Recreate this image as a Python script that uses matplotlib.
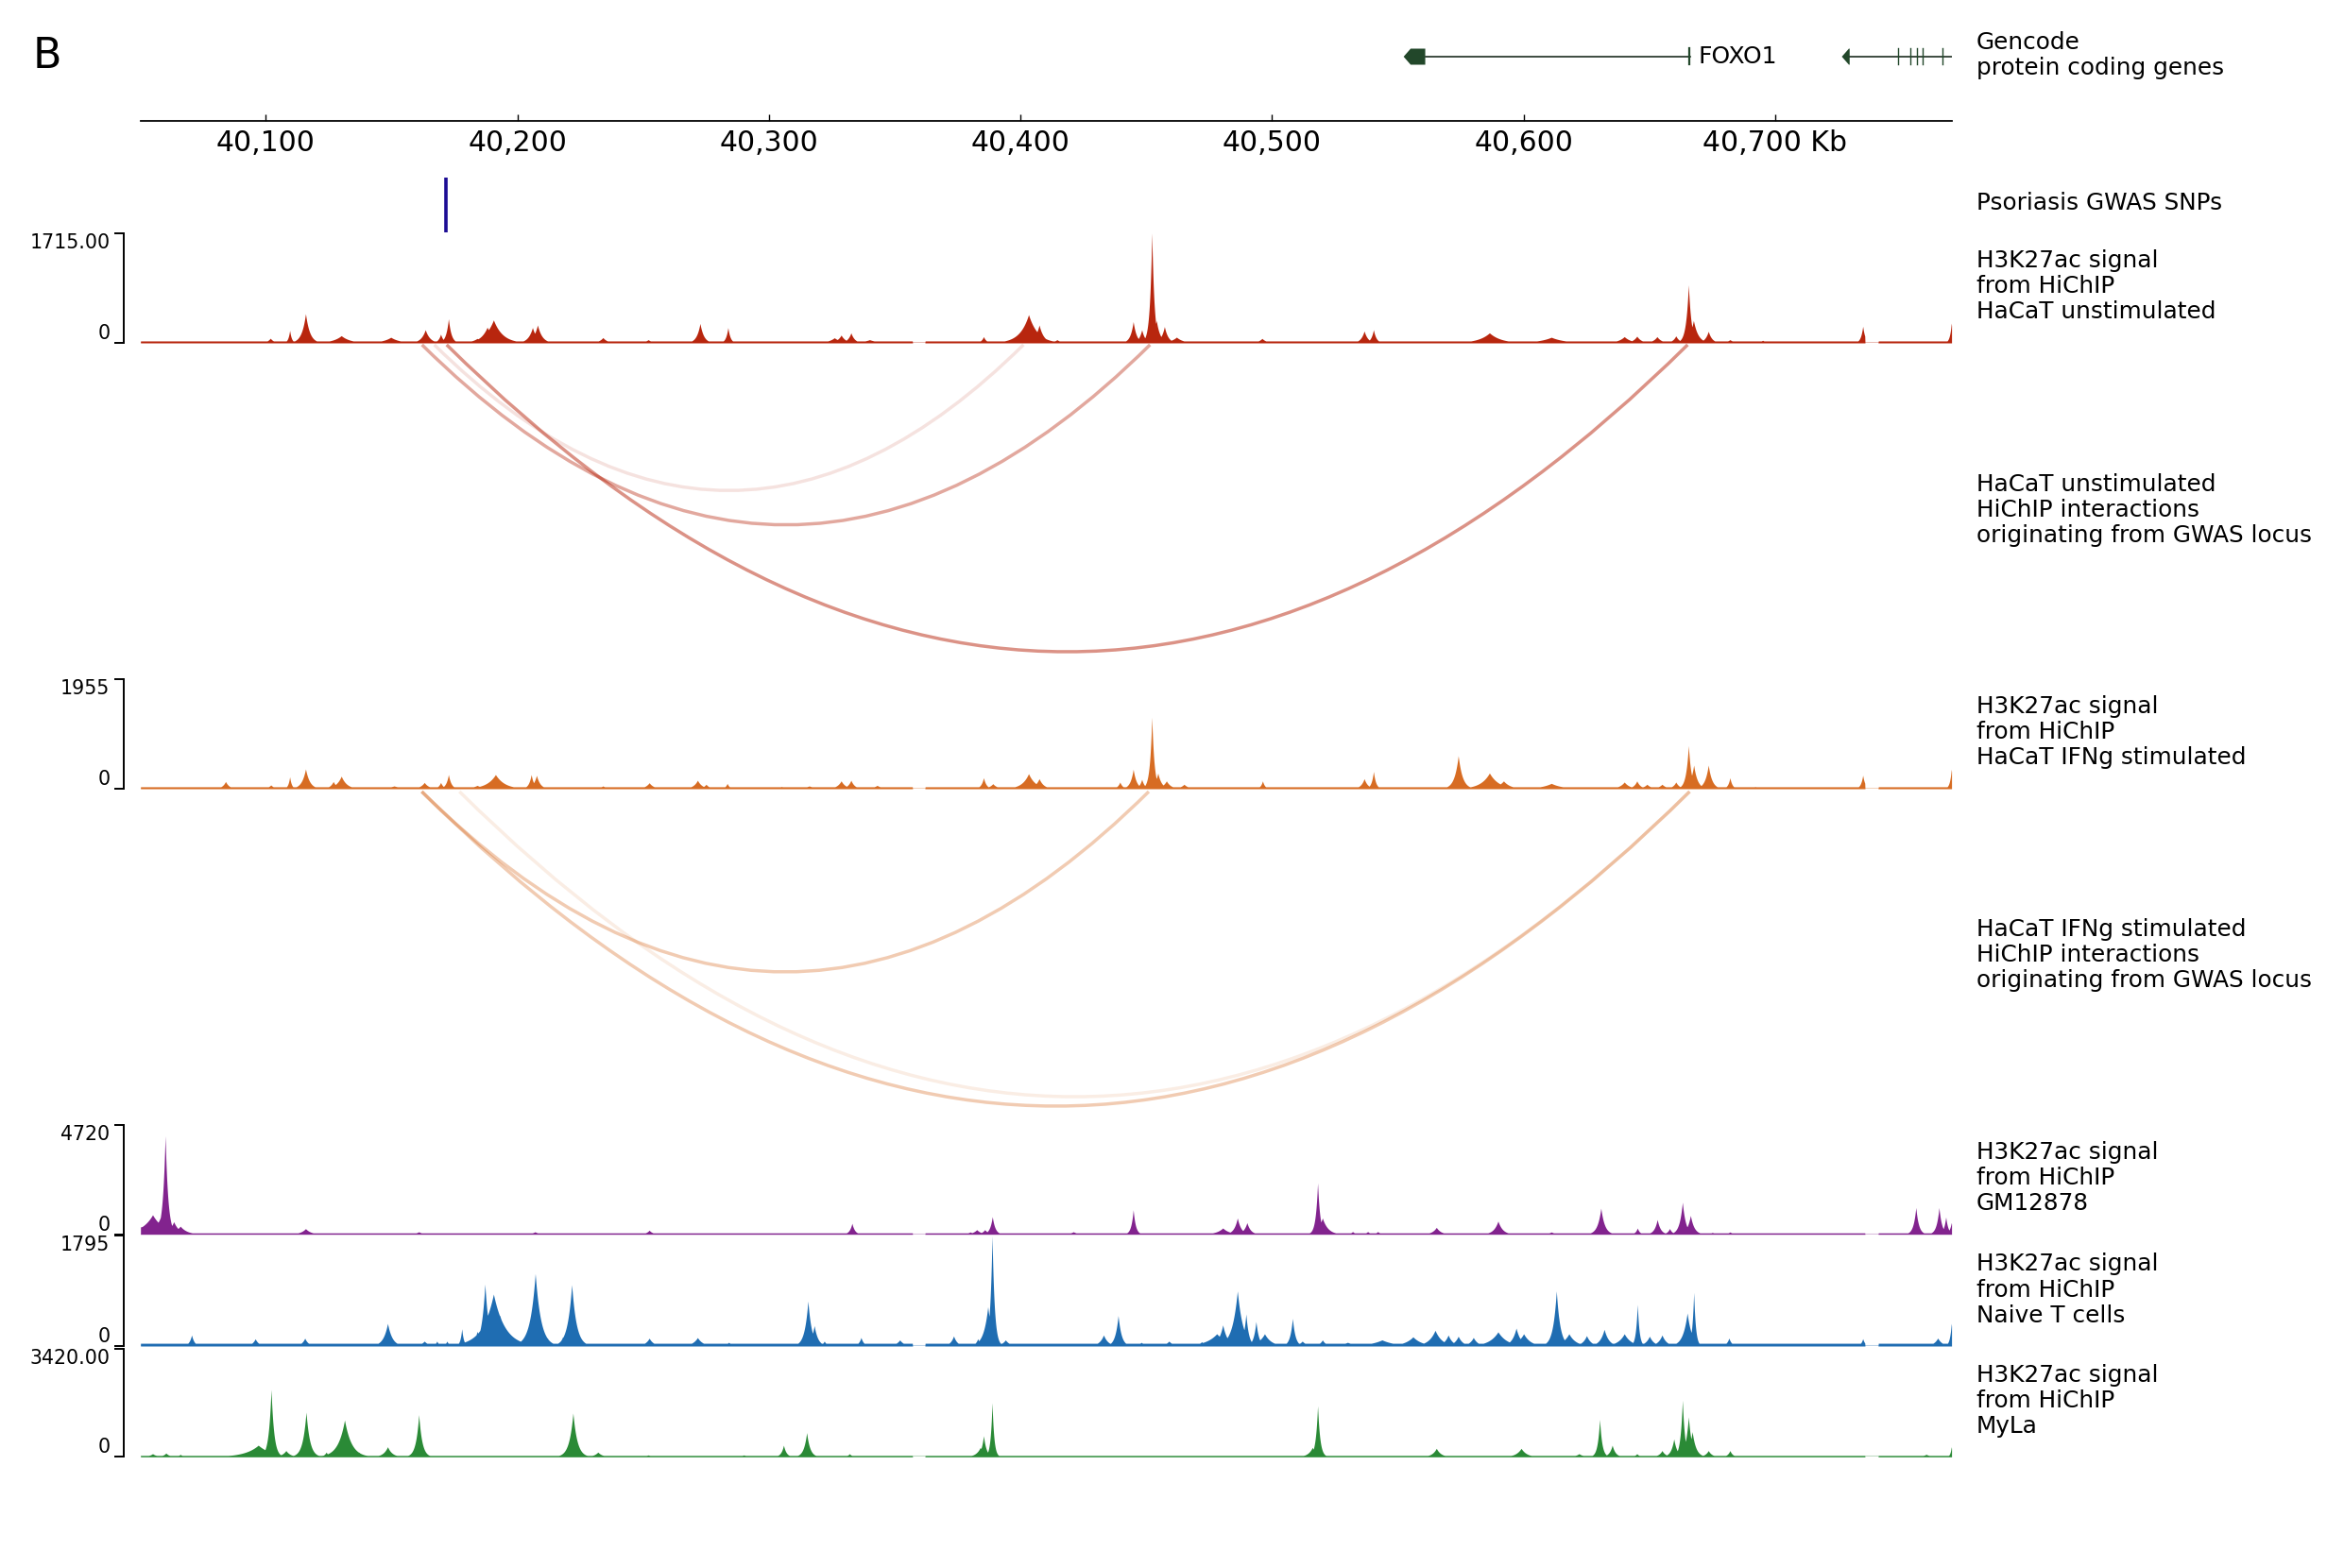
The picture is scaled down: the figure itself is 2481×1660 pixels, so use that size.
import numpy as np
import matplotlib.pyplot as plt
from matplotlib.path import Path
from matplotlib.patches import PathPatch, Polygon

# ---------------- data (positions in kb) ----------------
region = (40050.2, 40770.1)
tick_pos = [40100, 40200, 40300, 40400, 40500, 40600, 40700]
tick_labels = ['40,100', '40,200', '40,300', '40,400', '40,500', '40,600', '40,700 Kb']

# genes (minus strand, arrow at the left end)
gene_names = ['FOXO1', '']
gene_tx_start = [40552.3, 40726.5]
gene_tx_end = [40666.4, 40770.1]
gene_block_end = [40560.9, 40729.6]
gene_exon_ticks = [[40666.0], [40748.7, 40753.6, 40756.2, 40758.5, 40766.4]]

snp_pos = [40171.6]

# gaps without data
gap_start = [40357.0, 40735.6]
gap_end = [40362.0, 40740.9]

# H3K27ac HiChIP signal peaks: centre (kb), height, width (kb)
red_c = [40101.8, 40109.5, 40115.8, 40130.0, 40149.7, 40163.4, 40169.5, 40172.6, 40184.0, 40188.0,
         40190.5, 40206.0, 40208.0, 40234.0, 40252.0, 40272.6, 40283.7, 40326.0, 40328.7, 40332.6,
         40340.0, 40385.3, 40403.2, 40407.4, 40414.5, 40444.8, 40448.2, 40452.2, 40454.0, 40457.2,
         40462.0, 40496.0, 40536.6, 40540.3, 40586.4, 40611.0, 40640.0, 40645.0, 40653.0, 40660.5,
         40665.5, 40667.5, 40673.4, 40682.0, 40695.0, 40734.8, 40770.0]
red_h = [73, 196, 456, 113, 88, 206, 137, 377, 70, 245,
         358, 240, 279, 83, 50, 304, 240, 80, 122, 157,
         50, 98, 441, 279, 50, 333, 206, 1715, 350, 255,
         90, 70, 186, 206, 157, 88, 98, 105, 98, 110,
         906, 350, 181, 50, 40, 260, 309]
red_w = [0.8, 0.4, 0.9, 2.0, 2.0, 1.0, 0.6, 0.6, 1.5, 1.5,
         2.0, 1.0, 1.0, 1.0, 1.0, 0.8, 0.5, 1.5, 1.0, 0.8,
         2.0, 0.6, 2.0, 1.0, 1.0, 0.7, 0.7, 0.5, 0.8, 0.8,
         1.5, 1.0, 0.8, 0.6, 2.5, 3.0, 1.5, 1.0, 1.0, 0.8,
         0.6, 1.0, 0.8, 1.0, 1.0, 0.5, 0.4]

orange_c = [40084.0, 40102.0, 40109.5, 40115.8, 40126.8, 40130.0, 40151.0, 40163.0, 40169.5, 40172.6,
            40184.0, 40191.3, 40205.5, 40207.6, 40234.0, 40252.4, 40271.6, 40275.0, 40283.4, 40305.0,
            40316.0, 40328.7, 40332.6, 40343.0, 40385.3, 40389.0, 40403.2, 40407.4, 40439.5, 40444.8,
            40448.2, 40452.2, 40454.6, 40458.0, 40465.0, 40496.2, 40536.6, 40540.3, 40574.0, 40586.4,
            40592.0, 40611.0, 40640.0, 40645.0, 40649.0, 40655.0, 40660.5, 40665.5, 40667.6, 40673.4,
            40682.0, 40692.0, 40734.8, 40770.0]
orange_h = [130, 68, 214, 355, 130, 225, 50, 113, 113, 254,
            60, 254, 254, 240, 50, 107, 152, 80, 96, 40,
            50, 141, 152, 60, 197, 90, 270, 180, 120, 349,
            170, 1279, 280, 140, 80, 140, 180, 310, 592, 282,
            140, 96, 120, 140, 80, 80, 120, 772, 423, 423,
            197, 40, 242, 349]
orange_w = [0.8, 0.8, 0.4, 0.9, 0.8, 1.2, 2.0, 1.0, 0.6, 0.6,
            1.5, 2.0, 0.6, 0.8, 1.0, 1.0, 1.0, 0.8, 0.5, 1.5,
            1.5, 1.0, 0.8, 1.2, 0.6, 1.0, 1.5, 1.0, 0.6, 0.7,
            0.6, 0.5, 0.8, 1.0, 1.0, 0.5, 0.8, 0.5, 0.9, 2.0,
            1.5, 2.5, 1.2, 0.8, 1.0, 1.0, 0.8, 0.6, 0.8, 0.8,
            0.5, 1.0, 0.5, 0.4]

purple_c = [40050.5, 40055.0, 40058.0, 40060.0, 40063.4, 40066.0, 40101.5, 40115.8, 40160.8, 40207.0,
            40228.0, 40252.4, 40316.0, 40333.0, 40345.0, 40380.0, 40382.6, 40385.8, 40388.8, 40421.0,
            40444.8, 40480.4, 40486.2, 40490.0, 40518.1, 40520.0, 40532.0, 40538.0, 40542.0, 40565.3,
            40589.8, 40611.0, 40630.7, 40645.2, 40653.1, 40658.0, 40663.1, 40666.3, 40675.0, 40682.0,
            40695.0, 40755.9, 40765.1, 40767.8, 40770.0]
purple_h = [339, 841, 700, 4245, 542, 350, 60, 244, 108, 108,
            60, 176, 60, 475, 50, 100, 200, 200, 760, 110,
            1058, 271, 705, 502, 2211, 700, 120, 120, 120, 298,
            570, 100, 1126, 271, 637, 250, 1383, 814, 80, 100,
            60, 1153, 1153, 746, 500]
purple_w = [1.5, 2.5, 1.5, 0.6, 1.2, 1.5, 1.0, 1.2, 1.0, 1.0,
            1.0, 0.8, 1.0, 0.6, 1.0, 1.0, 1.0, 0.8, 0.6, 1.0,
            0.5, 1.5, 0.8, 0.8, 0.5, 1.2, 0.6, 0.6, 0.6, 1.0,
            1.0, 1.0, 0.8, 0.5, 0.7, 0.6, 0.7, 0.8, 1.0, 0.8,
            0.5, 0.6, 0.6, 0.5, 0.5]

blue_c = [40070.5, 40095.8, 40115.5, 40148.4, 40163.0, 40168.0, 40172.0, 40177.9, 40184.0, 40187.1,
          40190.5, 40193.0, 40207.1, 40212.0, 40218.0, 40221.6, 40252.4, 40271.6, 40284.0, 40315.5,
          40318.0, 40322.0, 40336.6, 40352.0, 40373.4, 40383.0, 40385.8, 40388.7, 40387.0, 40394.0,
          40433.0, 40438.8, 40448.0, 40459.0, 40472.0, 40478.0, 40480.4, 40486.2, 40489.6, 40493.6,
          40497.0, 40508.1, 40512.0, 40520.0, 40530.0, 40543.7, 40556.0, 40564.8, 40570.0, 40574.0,
          40580.0, 40589.8, 40597.0, 40600.0, 40613.0, 40618.0, 40625.0, 40632.0, 40640.0, 40645.2,
          40650.0, 40655.0, 40665.0, 40667.6, 40681.6, 40734.8, 40764.6, 40770.0]
blue_h = [180, 118, 128, 369, 80, 80, 80, 282, 241, 1010,
          846, 500, 1180, 130, 150, 1000, 128, 138, 60, 733,
          333, 80, 140, 100, 164, 120, 205, 1795, 640, 100,
          180, 497, 60, 80, 70, 200, 344, 897, 523, 400,
          200, 451, 80, 100, 60, 100, 150, 256, 180, 160,
          140, 231, 292, 200, 897, 200, 170, 272, 200, 677,
          160, 180, 538, 872, 130, 120, 130, 369]
blue_w = [0.6, 0.8, 0.8, 1.0, 1.0, 0.5, 0.5, 0.4, 0.8, 0.8,
          2.5, 2.0, 1.2, 0.5, 0.8, 1.0, 1.0, 1.2, 1.0, 0.8,
          0.8, 0.6, 0.6, 1.0, 0.8, 0.6, 0.6, 0.5, 1.0, 1.0,
          1.0, 0.7, 1.0, 1.0, 1.0, 2.5, 1.0, 1.2, 0.6, 0.6,
          1.5, 0.6, 1.0, 0.8, 2.0, 3.0, 2.0, 1.5, 1.0, 1.0,
          1.0, 2.0, 1.0, 1.5, 0.8, 1.5, 1.0, 1.0, 1.5, 0.4,
          1.0, 1.0, 1.0, 0.4, 0.6, 0.5, 1.0, 0.4]

green_c = [40055.0, 40060.3, 40066.0, 40097.0, 40102.1, 40108.0, 40116.0, 40124.0, 40131.3, 40137.0,
           40148.4, 40160.8, 40176.0, 40222.1, 40232.0, 40252.0, 40290.0, 40305.8, 40315.0, 40332.0,
           40384.0, 40385.3, 40388.7, 40516.0, 40518.1, 40565.3, 40599.0, 40622.0, 40630.2, 40635.2,
           40645.0, 40655.0, 40659.7, 40663.1, 40665.5, 40667.0, 40673.4, 40682.0, 40760.0, 40770.0]
green_h = [100, 120, 80, 370, 2140, 200, 1420, 150, 1170, 150,
           320, 1340, 40, 1390, 150, 60, 60, 370, 770, 100,
           300, 670, 1720, 300, 1620, 270, 270, 100, 1190, 370,
           100, 200, 570, 1800, 1270, 800, 200, 200, 80, 320]
green_w = [1.0, 0.8, 0.6, 3.0, 0.6, 1.0, 0.8, 0.6, 1.5, 1.0,
           1.0, 0.7, 1.0, 0.9, 1.0, 1.0, 1.0, 0.6, 0.7, 0.6,
           1.0, 0.6, 0.4, 1.0, 0.5, 1.0, 1.2, 1.0, 0.5, 0.7,
           0.6, 0.8, 0.7, 0.5, 0.7, 0.8, 0.8, 0.6, 1.0, 0.3]

# HiChIP interactions from the GWAS locus: start, end, strength (alpha)
red_link_start = [40167.0, 40162.1, 40171.9]
red_link_end = [40401.2, 40451.5, 40665.2]
red_link_alpha = [0.13, 0.4, 0.5]
orange_link_start = [40162.0, 40162.0, 40177.0]
orange_link_end = [40451.0, 40666.0, 40666.0]
orange_link_alpha = [0.35, 0.35, 0.12]

# ---------------- layout helpers ----------------
W, H = 2481, 1660
L, R = 148.7, 2065.6
fig = plt.figure(figsize=(W / 100, H / 100), dpi=100)
fig.patch.set_facecolor('white')


def add_ax(top, bottom):
    ax = fig.add_axes([L / W, 1 - bottom / H, (R - L) / W, (bottom - top) / H])
    ax.set_xlim(region)
    return ax


def label(y, text):
    fig.text(2091.7 / W, 1 - y / H, text, fontsize=17.8, va='center', ha='left', linespacing=1.16)


x = np.arange(region[0], region[1], 0.1)


def profile(c, h, w, base):
    y = np.full_like(x, float(base))
    for ci, hi, wi in zip(c, h, w):
        y = np.maximum(y, hi * np.exp(-np.abs(x - ci) / (1.8 * wi)))
    for gs, ge in zip(gap_start, gap_end):
        y[(x > gs) & (x < ge)] = 0
    return y


def signal_track(top, bottom, c, h, w, base, ymax, ymax_label, color):
    ax = add_ax(top, bottom)
    y = profile(c, h, w, base)
    ax.fill_between(x, 0, y, color=color, lw=0)
    ax.axhline(0, color=color, alpha=0.3, lw=1.5)
    ax.set_ylim(0, ymax)
    for s in ['top', 'right', 'bottom']:
        ax.spines[s].set_visible(False)
    ax.spines['left'].set_position(('outward', 12.7))
    ax.spines['left'].set_linewidth(1.4)
    ax.set_xticks([])
    ax.set_yticks([0, ymax])
    ax.set_yticklabels(['0', ymax_label])
    ax.tick_params(axis='y', length=7, width=1.4, pad=3.6, labelsize=14.8)
    lbls = ax.get_yticklabels()
    lbls[0].set_va('bottom')
    lbls[1].set_va('top')
    ax.patch.set_alpha(0)
    return ax


def link_track(top, bottom, starts, ends, alphas, color):
    ax = add_ax(top, bottom)
    heights = [(e - s) / 2 for s, e in zip(starts, ends)]
    for s, e, hh, a in zip(starts, ends, heights, alphas):
        verts = [(s, 0), ((s + e) / 2, -2 * hh), (e, 0)]
        path = Path(verts, [Path.MOVETO, Path.CURVE3, Path.CURVE3])
        ax.add_patch(PathPatch(path, fill=False, edgecolor=color, alpha=a, lw=2.5, clip_on=False))
    ax.set_ylim(-max(heights), 0)
    ax.axis('off')
    return ax


# ---------------- panel label ----------------
fig.text(35 / W, 1 - 60 / H, 'B', fontsize=32, va='center', ha='left')

# ---------------- gene track ----------------
gene_color = '#22472a'
ax_g = add_ax(30, 90)
ax_g.set_ylim(-30, 30)
ax_g.axis('off')
for i in range(len(gene_names)):
    s, e, be = gene_tx_start[i], gene_tx_end[i], gene_block_end[i]
    ax_g.plot([be, e], [0, 0], color='#1c2e20', lw=1.2)
    ax_g.add_patch(Polygon([(s, 0), (s + 2.8, 8.5), (be, 8.5), (be, -8.5), (s + 2.8, -8.5)],
                           closed=True, color=gene_color, lw=0))
    for t in gene_exon_ticks[i]:
        ax_g.plot([t, t], [-8.5, 8.5], color=gene_color, lw=1.6 if i == 0 else 1.0)
    if gene_names[i]:
        ax_g.text(e + 3.0, 0, gene_names[i], fontsize=18, va='center', ha='left')
label(58.5, 'Gencode\nprotein coding genes')

# ---------------- scale axis ----------------
ax_s = add_ax(100, 128)
for s in ['top', 'right', 'left']:
    ax_s.spines[s].set_visible(False)
ax_s.spines['bottom'].set_linewidth(1.3)
ax_s.set_yticks([])
ax_s.set_xticks(tick_pos)
ax_s.set_xticklabels(tick_labels)
ax_s.tick_params(axis='x', direction='in', length=5, width=1, labelsize=21.5, pad=6.5)
ax_s.patch.set_alpha(0)

# ---------------- GWAS SNPs ----------------
ax_snp = add_ax(188, 246)
ax_snp.vlines(snp_pos, 0, 1, color='#1c0c94', lw=2.6)
ax_snp.set_ylim(0, 1)
ax_snp.axis('off')
label(215, 'Psoriasis GWAS SNPs')

# ---------------- HaCaT unstimulated ----------------
signal_track(246.7, 363, red_c, red_h, red_w, 30, 1715, '1715.00', '#b8260e')
label(303, 'H3K27ac signal\nfrom HiChIP\nHaCaT unstimulated')
link_track(365, 690, red_link_start, red_link_end, red_link_alpha, '#b8260e')
label(540, 'HaCaT unstimulated\nHiChIP interactions\noriginating from GWAS locus')

# ---------------- HaCaT IFNg stimulated ----------------
signal_track(719.3, 835, orange_c, orange_h, orange_w, 35, 1955, '1955', '#d76c23')
label(775, 'H3K27ac signal\nfrom HiChIP\nHaCaT IFNg stimulated')
link_track(838, 1171, orange_link_start, orange_link_end, orange_link_alpha, '#d76c23')
label(1011, 'HaCaT IFNg stimulated\nHiChIP interactions\noriginating from GWAS locus')

# ---------------- other cell types ----------------
signal_track(1190.7, 1306.7, purple_c, purple_h, purple_w, 60, 4720, '4720', '#82238e')
label(1247, 'H3K27ac signal\nfrom HiChIP\nGM12878')
signal_track(1308.3, 1425, blue_c, blue_h, blue_w, 45, 1795, '1795', '#1f6db2')
label(1365.5, 'H3K27ac signal\nfrom HiChIP\nNaive T cells')
signal_track(1428.3, 1542.3, green_c, green_h, green_w, 40, 3420, '3420.00', '#2a8a36')
label(1482.6, 'H3K27ac signal\nfrom HiChIP\nMyLa')

plt.savefig('out.png', dpi=100, facecolor='white')
